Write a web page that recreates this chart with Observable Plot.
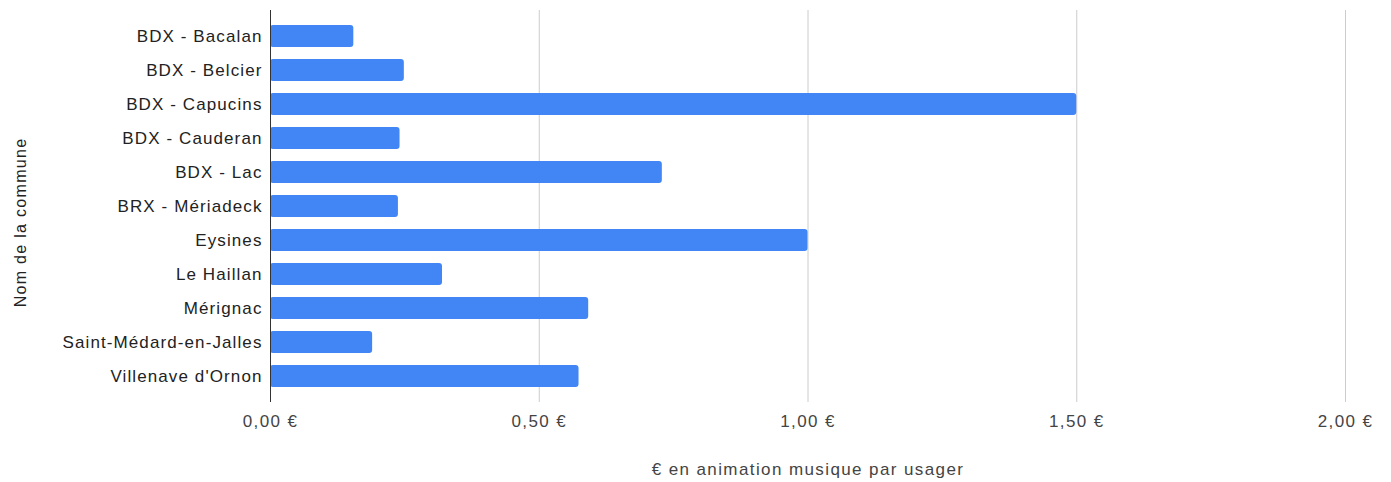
<!DOCTYPE html>
<html>
<head>
<meta charset="utf-8">
<script src="https://cdn.jsdelivr.net/npm/d3@7"></script>
<script src="https://cdn.jsdelivr.net/npm/@observablehq/plot@0.6"></script>
<style>
  html, body { margin: 0; padding: 0; background: #fff; }
  #chart { width: 1391px; height: 482px; }
  #chart svg { font-family: "Liberation Sans", Arial, sans-serif; }
  #chart g[aria-label="y-axis tick label"] text { letter-spacing: 1.1px; }
  #chart g[aria-label="x-axis tick label"] text { letter-spacing: 1.4px; }
  #chart g[aria-label="x-axis label"] text { letter-spacing: 1.4px; }
  #chart g[aria-label="text"] text { letter-spacing: 1.3px; }
</style>
</head>
<body>
<div id="chart"></div>
<script>
// Communes (in display order) and the amount spent on music events per user, in euros
const communes = [
  "BDX - Bacalan",
  "BDX - Belcier",
  "BDX - Capucins",
  "BDX - Cauderan",
  "BDX - Lac",
  "BRX - Mériadeck",
  "Eysines",
  "Le Haillan",
  "Mérignac",
  "Saint-Médard-en-Jalles",
  "Villenave d'Ornon"
];
const montants = [0.155, 0.249, 1.50, 0.241, 0.729, 0.238, 1.00, 0.32, 0.592, 0.19, 0.574];
const xTicks = [0, 0.5, 1, 1.5, 2];
const yTitle = "Nom de la commune";
const xTitle = "€ en animation musique par usager";

const data = communes.map((c, i) => ({commune: c, valeur: montants[i]}));
const euro = d => d.toFixed(2).replace(".", ",") + " €";

const chart = Plot.plot({
  width: 1391,
  height: 482,
  marginLeft: 270,
  marginRight: 46,
  marginTop: 10,
  marginBottom: 80,
  style: {fontFamily: "'Liberation Sans', Arial, sans-serif", background: "#fff"},
  x: {domain: [0, 2]},
  y: {domain: communes, paddingInner: 0.34, paddingOuter: 0.4},
  marks: [
    Plot.gridX(xTicks, {stroke: "#cccccc", strokeOpacity: 1, strokeWidth: 1}),
    Plot.barX(data, {x: "valeur", y: "commune", fill: "#4285f4", rx: 3}),
    Plot.ruleX([0], {stroke: "#333", strokeWidth: 1}),
    Plot.axisX({
      ticks: xTicks,
      tickFormat: euro,
      tickSize: 0,
      tickPadding: 12,
      fontSize: 17,
      fill: "#444",
      label: xTitle,
      labelAnchor: "center",
      labelArrow: "none",
      labelOffset: 72
    }),
    Plot.axisY({
      tickSize: 0,
      tickPadding: 8,
      fontSize: 17,
      fill: "#222",
      label: null
    }),
    // vertical axis title, centred a little below the middle of the frame
    Plot.text([yTitle], {
      frameAnchor: "left",
      textAnchor: "middle",
      dx: -250,
      dy: 16,
      rotate: -90,
      fontSize: 16,
      fill: "#222"
    })
  ]
});
document.getElementById("chart").append(chart);
</script>
</body>
</html>
